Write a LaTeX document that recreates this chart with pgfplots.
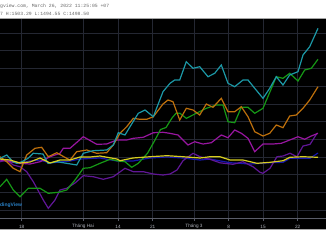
\documentclass[border=0pt]{standalone}
\usepackage{fontspec}
\setmainfont{Liberation Sans}
\newfontfamily\monofont{Liberation Mono}
\usepackage{pgfplots}
\pgfplotsset{compat=1.18}
\definecolor{tvgrid}{RGB}{36,39,50}
\definecolor{tvsep}{RGB}{90,93,105}
\definecolor{tvhead}{RGB}{105,105,105}
\definecolor{tvtext}{RGB}{178,181,190}
\definecolor{tvblue}{RGB}{41,130,200}
\definecolor{scyan}{RGB}{28,152,166}
\definecolor{sorange}{RGB}{190,112,12}
\definecolor{sgreen}{RGB}{22,152,22}
\definecolor{smagenta}{RGB}{152,22,160}
\definecolor{sviolet}{RGB}{96,22,150}
\definecolor{sblue}{RGB}{22,22,175}
\definecolor{syellow}{RGB}{215,205,32}
\begin{document}
\begin{tikzpicture}
\useasboundingbox (0,0) rectangle (326bp,245bp);
\fill[white] (0,0) rectangle (326bp,245bp);
\fill[black] (0,16bp) rectangle (326bp,227bp);
\begin{axis}[at={(0,27bp)}, anchor=south west, scale only axis,
  width=326bp, height=200bp,
  xmin=0, xmax=326, ymin=-17.23, ymax=39.27,
  axis line style={draw=none},
  xtick={21.7,83,118,152.7,194,228.7,263,297.7},
  xticklabels={18,Tháng Hai,14,21,Tháng 3,8,15,22},
  ytick={-15,-10,...,35}, yticklabels={},
  grid=major, grid style={tvgrid, line width=0.8bp},
  ytick style={draw=none},
  xtick pos=left, xtick align=outside, major tick length=2.5bp,
  xtick style={draw=tvsep, line width=0.6bp},
  xticklabel style={font=\fontsize{4.7}{5}\selectfont, text=tvtext, anchor=center, yshift=-6bp},
  axis background/.style={fill=black},
  clip=true]
\addplot[color=sblue, line width=1.2bp] coordinates {(0,-0.57)(10,-1.13)(20,-1.69)(30,-1.13)(40,-0.85)(50,-1.69)(60,-1.41)(70,-1.13)(80,-0.57)(100,-0.28)(117,-1.13)(133,-1.13)(150,-0.28)(167,0)(183,-0.28)(200,-0.85)(210,-0.57)(230,-1.61)(250,-1.98)(270,-1.61)(283,-1.50)(290,-0.37)(310,-0.37)(318,1.13)};
\addplot[color=sviolet, line width=1.2bp] coordinates {(0,-1.33)(6.7,-0.85)(13.3,-2.26)(20,-2.74)(26.7,-4.15)(33.3,-6.98)(43.3,-12.15)(48.3,-14.49)(55,-12.15)(60,-9.32)(66.7,-8.84)(75,-7.35)(83.3,-5.28)(93.3,-5.57)(103.3,-6.30)(113.3,-5.57)(125,-3.19)(133.3,-4.15)(143.3,-4.15)(153.3,-4.80)(163,-5.09)(170,-4.80)(177,-3.67)(183,-1.05)(193,1.04)(200,0.08)(210,-0.65)(220,-1.64)(233,-2.06)(243,-1.33)(253,-2.74)(260,-4.32)(263,-4.60)(270,-3.19)(277,0.08)(283,0.28)(290,1.05)(297,0.08)(303,3.11)(310,3.56)(317,6.70)};
\addplot[color=smagenta, line width=1.2bp] coordinates {(0,-0.85)(10,-1.33)(20,-1.78)(30,-1.98)(40,-1.33)(50,0.08)(60,1.05)(63.3,2.46)(70,2.46)(83.3,5.73)(96.7,3.59)(106.7,3.67)(116.7,4.80)(126.7,4.80)(133.3,5.28)(143.3,5.57)(153.3,6.86)(163,6.98)(169.7,6.70)(178,6.22)(188,3.39)(194.7,4.32)(203,3.67)(211.3,4.04)(221.3,6.22)(228,5.45)(234.7,7.63)(241.3,6.70)(248,5.28)(254.7,1.50)(263,3.67)(273,3.67)(281.3,3.87)(289.7,4.80)(298,5.73)(304.7,5.00)(311.3,5.93)(318,6.70)};
\addplot[color=sgreen, line width=1.2bp] coordinates {(0,-8.39)(6.7,-6.30)(13.3,-9.32)(20,-11.22)(28.3,-8.84)(40,-8.84)(48.3,-10.25)(58.3,-9.97)(66.7,-9.32)(75,-6.50)(83.3,-3.19)(90,-3.02)(100,-1.78)(110,-0.65)(118.3,-1.13)(125,-1.33)(131.7,-2.91)(138.3,-1.78)(147.5,1.05)(155,4.80)(160.5,7.77)(166,8.33)(172,11.02)(176,12.35)(180,12.35)(186.3,10.93)(196.3,12.35)(206.3,13.76)(216.3,14.69)(223,14.69)(228,9.97)(234.7,9.69)(241.3,14.04)(248,14.04)(254.7,12.35)(263,13.76)(276.3,22.68)(283,22.23)(289.7,23.65)(298,21.47)(304.7,24.58)(311.3,25.06)(318,27.60)};
\addplot[color=sorange, line width=1.2bp] coordinates {(0,0.08)(6.7,-1.33)(13.3,-3.19)(20,-4.15)(26.7,0.57)(35,2.46)(41.7,2.74)(48.3,0.08)(56.7,1.21)(66.7,-0.37)(70,-0.85)(76.7,1.50)(86.7,1.98)(96.7,1.05)(106.7,1.21)(113.3,3.39)(120,6.70)(126.7,8.56)(133.3,10.93)(140,10.65)(146.7,10.65)(153.3,11.38)(163,14.97)(168,16.10)(173,15.62)(179.7,10.45)(186.3,13.76)(193,13.28)(199.7,11.87)(206.3,14.97)(213,14.04)(221.3,16.58)(228,12.80)(234.7,12.80)(241.3,14.21)(248,11.38)(254.7,7.15)(263,5.93)(269.7,6.70)(276.3,9.04)(283,8.28)(289.7,11.58)(296.3,11.87)(303,13.76)(309.7,16.10)(318,19.86)};
\addplot[color=scyan, line width=1.2bp] coordinates {(0,-0.37)(6.7,0.57)(13,-1.33)(17,-1.78)(22,-1.33)(28,-0.37)(33.3,1.05)(43,0.85)(48,-1.78)(57,-1.33)(66.7,-1.78)(76.7,-2.26)(83.3,1.05)(93,1.78)(106.7,1.98)(113.3,3.39)(118.3,6.86)(125,6.22)(130,8.56)(138.3,12.35)(145,13.28)(153.3,11.38)(163,18.45)(170,20.82)(174.7,21.75)(179.7,21.75)(186.3,26.92)(193,25.06)(199.7,25.51)(208,22.68)(214.7,23.65)(221.3,25.99)(228,20.82)(234.7,19.86)(243,21.75)(248,21.75)(254.7,19.41)(263,16.58)(269.7,19.41)(276.3,22.68)(283,20.34)(289.7,23.17)(298,24.10)(303,28.82)(309.7,31.16)(318,36.36)};
\addplot[color=syellow, line width=1.2bp] coordinates {(0,-0.57)(10,-0.85)(20,-1.69)(30,-1.41)(40,-0.28)(50,-1.69)(60,-0.85)(70,-0.85)(80,0)(90,0)(100,0.28)(117,-0.57)(120,-1.05)(133,-0.28)(150,0.08)(167,0.37)(183,0.08)(200,-0.28)(210,0.08)(220,0.08)(230,-0.85)(243,-0.85)(257,-1.78)(270,-1.50)(283,-1.05)(290,-0.08)(303,0.08)(318,-0.08)};
\end{axis}
\draw[tvsep, line width=0.6bp] (0,27bp) -- (326bp,27bp);
\draw[gray!70, line width=0.7bp] (0,227bp) -- (326bp,227bp);
\draw[gray!70, line width=0.7bp] (0,16bp) -- (326bp,16bp);
\node[anchor=west, inner sep=0, text=tvblue] at (0,40bp) {\bfseries\fontsize{5}{6}\selectfont dingView};
\node[anchor=west, inner sep=0, text=tvhead] at (0,239bp) {\monofont\fontsize{4.8}{5}\selectfont gview.com, March 26, 2022 11:25:05 +07};
\node[anchor=west, inner sep=0, text=tvhead] at (0,231.5bp) {\monofont\fontsize{4.8}{5}\selectfont 7 H:1503.29 L:1494.55 C:1498.50};
\end{tikzpicture}
\end{document}
